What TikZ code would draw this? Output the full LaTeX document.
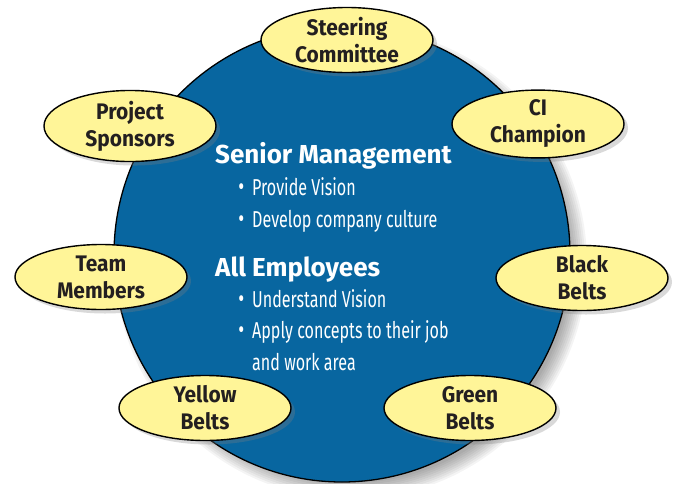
\documentclass[tikz,border=0pt]{standalone}
\usepackage{fontspec}
\setmainfont{Fira Sans}
\newfontfamily\narrowfont[FakeStretch=0.7]{Fira Sans}
\newfontfamily\rolefont[FakeStretch=0.93]{Fira Sans}
\usetikzlibrary{shapes.geometric,shadows,calc}
\definecolor{discblue}{RGB}{8,102,160}
\definecolor{rolefill}{RGB}{255,245,152}
\definecolor{roletext}{RGB}{35,31,32}
\newcommand{\itembullet}{\llap{{\fontsize{26}{24}\selectfont\textbullet}\hspace{8pt}}}

\begin{document}
\begin{tikzpicture}[x=1pt,y=-1pt]
  \useasboundingbox (0,0) rectangle (678,483);
  \coordinate(disc) at (342,254);
  % soft shadow of the disc
  \foreach \k in {1,...,9}
    \fill[black,opacity=0.045] ($(disc)+(9,9)$) circle[radius=218+2*\k];
  \fill[discblue,draw=black,line width=1.3pt] (disc) circle[radius=228];
  \begin{scope}[
    every node/.style={
      ellipse,
      draw=black,
      line width=1.4pt,
      fill=rolefill,
      minimum width=172pt,
      minimum height=65pt,
      inner sep=0pt,
      align=center,
      text=roletext,
      font=\rolefont\bfseries\fontsize{22.5}{27}\selectfont,
      drop shadow={shadow xshift=4pt,shadow yshift=-4pt,opacity=0.3},
    },
    ]
    \node (steering) at (347,40)  {Steering\\Committee};
    \node (champion) at (538,124) {CI\\Champion};
    \node (sponsors) at (130,126) {Project\\Sponsors};
    \node (team)     at (101,277) {Team\\Members};
    \node (black)    at (582,278) {Black\\Belts};
    \node (yellow)   at (205,408) {Yellow\\Belts};
    \node (green)    at (470,408) {Green\\Belts};
  \end{scope}
  \begin{scope}[
    every node/.style={anchor=base west,inner sep=0pt,text=white},
    head/.style={font=\bfseries\fontsize{26}{28}\selectfont},
    item/.style={font=\narrowfont\fontsize{23}{24}\selectfont},
    ]
    \path node[head] at (215,163) (senior){Senior Management}
    (252,195) node[item](vision){\itembullet Provide Vision}
    ++(0,32) node[item](culture){\itembullet Develop\ company\ culture};
    \path node[head] at (215,276) (employees){All Employees}
    (252,307) node[item](understand){\itembullet Understand Vision}
    ++(0,31) node[item](apply){\itembullet Apply\ concepts\ to\ their\ job}
    ++(0,32) node[item](area){and\ work\ area};
  \end{scope}
\end{tikzpicture}
\end{document}
